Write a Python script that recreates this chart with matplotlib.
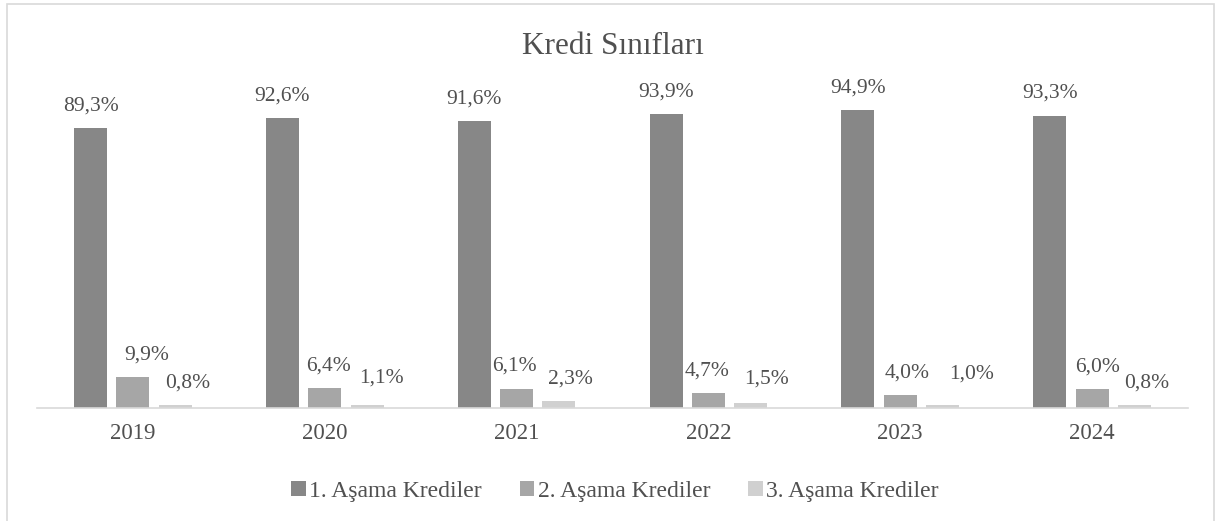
import matplotlib.pyplot as plt
from matplotlib.patches import Rectangle
import numpy as np

plt.rcParams['font.family'] = ['Liberation Serif', 'DejaVu Serif']

years = ["2019", "2020", "2021", "2022", "2023", "2024"]
series_names = ["1. Aşama Krediler", "2. Aşama Krediler", "3. Aşama Krediler"]
asama1 = [89.3, 92.6, 91.6, 93.9, 94.9, 93.3]
asama2 = [9.9, 6.4, 6.1, 4.7, 4.0, 6.0]
asama3 = [0.8, 1.1, 2.3, 1.5, 1.0, 0.8]
colors = ["#878787", "#a6a6a6", "#d0d0d0"]

# hand placed data labels in the original (pixel nudges, dx / extra dy)
nudges = [
    [(0, 0)] * 6,
    [(14, 0), (4, 0), (-2, 1), (-1, 0), (7, 0), (5, 0)],
    [(12, 0), (14, 5), (11, 0), (16, 2), (29, 9), (12, 0)],
]

text_color = "#505050"

fig = plt.figure(figsize=(12.25, 5.21), dpi=100)
fig.patches.append(Rectangle((7 / 1225, -0.05), 1207 / 1225, 1.05 - 4 / 521,
                             transform=fig.transFigure, fill=False,
                             edgecolor="#d9d9d9", linewidth=1.2))

ax = fig.add_axes([37 / 1225, 113 / 521, 1151 / 1225, 313.5 / 521])

x = np.arange(len(years))
width = 0.172
offset = 0.221
px = 72 / 100
for i, (vals, name) in enumerate(zip([asama1, asama2, asama3], series_names)):
    pos = x + (i - 1) * offset
    bars = ax.bar(pos, vals, width, color=colors[i], label=name)
    for b, v, (dx, dy) in zip(bars, vals, nudges[i]):
        ax.annotate(f"{v:.1f}%".replace(".", ","),
                    (b.get_x() + b.get_width() / 2, v),
                    xytext=(dx * px, 9 + dy * px), textcoords="offset points",
                    ha="center", va="bottom", fontsize=15.5, color=text_color)

ax.set_xlim(-0.5, len(years) - 0.5)
ax.set_ylim(0, 100)
ax.set_xticks(x)
ax.set_xticklabels(years, fontsize=16.5, color=text_color)
ax.tick_params(axis="x", length=0, pad=11)
ax.set_yticks([])
for s in ["top", "left", "right"]:
    ax.spines[s].set_visible(False)
ax.spines["bottom"].set_color("#d9d9d9")
ax.spines["bottom"].set_linewidth(1.2)
ax.patch.set_visible(False)

fig.text(0.5, 1 - 46 / 521, "Kredi Sınıfları", ha="center", va="center",
         fontsize=22.5, color=text_color)

leg = fig.legend(loc="center", bbox_to_anchor=(0.502, 1 - 491 / 521), ncol=3,
                 frameon=False, fontsize=17, handlelength=0.62, handleheight=0.62,
                 handletextpad=0.15, columnspacing=1.6)
for t in leg.get_texts():
    t.set_color(text_color)

fig.savefig("out.png", dpi=100)
